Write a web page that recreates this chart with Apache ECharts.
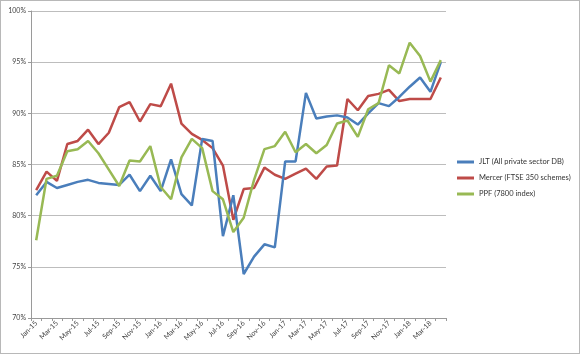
<!DOCTYPE html>
<html><head><meta charset="utf-8">
<script src="https://cdn.jsdelivr.net/npm/echarts@6/dist/echarts.min.js"></script>
<style>
html,body{margin:0;padding:0;background:#fff;}
#c{width:578px;height:352px;border:1px solid #b8b8b8;}
</style></head>
<body><div id="c"></div>
<script>
const categories = ["Jan-15","Feb-15","Mar-15","Apr-15","May-15","Jun-15","Jul-15","Aug-15","Sep-15","Oct-15","Nov-15","Dec-15",
"Jan-16","Feb-16","Mar-16","Apr-16","May-16","Jun-16","Jul-16","Aug-16","Sep-16","Oct-16","Nov-16","Dec-16",
"Jan-17","Feb-17","Mar-17","Apr-17","May-17","Jun-17","Jul-17","Aug-17","Sep-17","Oct-17","Nov-17","Dec-17",
"Jan-18","Feb-18","Mar-18","Apr-18"];
const jlt = [82.0,83.3,82.7,83.0,83.3,83.5,83.2,83.1,83.0,84.0,82.4,83.9,
82.4,85.5,82.1,81.0,87.5,87.3,78.0,82.0,74.3,76.0,77.2,76.9,
85.3,85.3,92.0,89.5,89.7,89.8,89.6,88.9,90.0,91.0,90.7,91.6,
92.6,93.5,92.1,95.0];
const mercer = [82.5,84.3,83.4,87.0,87.3,88.4,87.0,88.1,90.6,91.1,89.2,90.9,
90.7,92.9,89.0,88.0,87.4,86.6,84.9,79.6,82.6,82.7,84.7,84.0,
83.6,84.1,84.6,83.6,84.8,84.9,91.4,90.3,91.7,91.9,92.3,91.2,
91.4,91.4,91.4,93.5];
const ppf = [77.6,83.6,83.9,86.3,86.5,87.3,86.1,84.5,82.9,85.4,85.3,86.8,
82.8,81.6,85.7,87.5,86.6,82.4,81.6,78.4,79.8,83.5,86.5,86.8,
88.2,86.2,87.0,86.1,86.9,89.0,89.3,87.7,90.4,91.0,94.7,93.9,
96.9,95.6,93.1,95.2];
const seriesNames = ["JLT (All private sector DB)","Mercer (FTSE 350 schemes)","PPF (7800 index)"];
const yTicks = [70,75,80,85,90,95,100];

const colors = ["#4a7ebb","#be4b48","#98b954"];
const chart = echarts.init(document.getElementById('c'));
const font = "Lato, 'Open Sans', sans-serif";
chart.setOption({
  animation:false,
  color:colors,
  grid:{left:30,right:133,top:10,bottom:35},
  legend:{
    orient:'vertical', left:456, top:156, padding:0,
    itemWidth:17, itemHeight:3, itemGap:6,
    icon:'rect',
    textStyle:{fontSize:7.5, color:'#333', fontFamily:font, lineHeight:10},
    data:seriesNames
  },
  xAxis:{
    type:'category', data:categories, boundaryGap:true,
    axisLine:{lineStyle:{color:'#9a9a9a',width:1}},
    axisTick:{show:true, interval:0, length:3, lineStyle:{color:'#9a9a9a'}},
    axisLabel:{interval:1, rotate:45, fontSize:7, color:'#444', fontFamily:font, margin:4}
  },
  yAxis:{
    type:'value', min:yTicks[0], max:yTicks[yTicks.length-1], interval:5,
    axisLine:{show:true, lineStyle:{color:'#9a9a9a',width:1}},
    axisTick:{show:true, length:3, lineStyle:{color:'#9a9a9a'}},
    splitLine:{lineStyle:{color:'#bdbdbd',width:1}},
    axisLabel:{formatter:v=>v+'%', fontSize:7, color:'#444', fontFamily:font, margin:5}
  },
  series:[
    {name:seriesNames[0], type:'line', data:jlt, symbol:'none', lineStyle:{width:2.5}, z:3},
    {name:seriesNames[1], type:'line', data:mercer, symbol:'none', lineStyle:{width:2.5}, z:2},
    {name:seriesNames[2], type:'line', data:ppf, symbol:'none', lineStyle:{width:2.5}, z:4}
  ]
});
</script></body></html>
